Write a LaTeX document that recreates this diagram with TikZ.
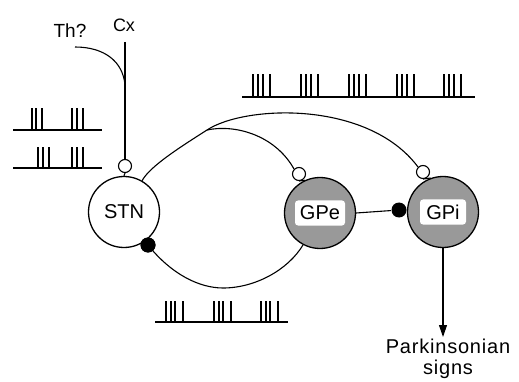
\documentclass[tikz,border=0pt]{standalone}
\usepackage{fontspec}
\setmainfont{Liberation Sans}
\usetikzlibrary{arrows.meta}
% one burst of spikes standing on a baseline: x, base y, top y, offsets
\newcommand\burst[4]{%
  \foreach \o in {#4} \draw[spike] (#1+\o,#2) -- (#1+\o,#3);%
}
\begin{document}
\begin{tikzpicture}[x=1pt,y=-1pt,line width=1.1pt,
  nucleus/.style={circle,draw,line width=1.3pt,minimum size=71pt,inner sep=0pt,
    font=\fontsize{20}{22}\selectfont},
  pallidal/.style={nucleus,fill=black!40},
  tag/.style={fill=white,rounded corners=3pt,inner sep=2pt,minimum width=50pt,
    minimum height=25pt,font=\fontsize{20}{22}\selectfont},
  excite/.style={circle,draw,fill=white,line width=1.1pt,minimum size=13pt,inner sep=0pt},
  inhibit/.style={circle,fill=black,minimum size=15pt,inner sep=0pt},
  lbl/.style={font=\fontsize{19}{21}\selectfont,inner sep=1pt,align=center},
  spike/.style={line width=1.7pt},
  base/.style={line width=1.3pt}]
\useasboundingbox (0,0) rectangle (519,382);

% nuclei
\node[nucleus] (STN) at (124,212) {STN};
\node[pallidal] (GPe) at (320,213) {};
\node[tag] at (GPe) {GPe};
\node[pallidal] (GPi) at (443,212) {};
\node[tag,minimum width=46pt] at (GPi) {GPi};

% synapses
\node[excite] (oS) at (125,166) {};
\node[excite] (oE) at (299,174) {};
\node[excite] (oI) at (423,172) {};
\node[inhibit] (bS) at (148,245) {};
\node[inhibit] (bI) at (399,210) {};

% inputs
\node[lbl,font=\fontsize{18}{20}\selectfont] (cxl) at (124,25) {Cx};
\node[lbl] (thl) at (70,31) {Th?};
\coordinate (cx) at (125,42);
\coordinate (th) at (75,47);
\coordinate (join) at (125,85);
\coordinate (br) at (207,130);

\draw (cx) -- (oS.north);
\draw (oS.south) -- (STN.north);
\draw (th) .. controls (105,47) and (123,62) .. (join);

% projections
\draw (STN.60) .. controls (150,166) and (182,146) .. (br)
      .. controls (245,105) and (368,100) .. (oI.135);
\draw (br) .. controls (235,124) and (275,135) .. (oE.135);
\draw (oE.south) -- (GPe.115);
\draw (oI.south) -- (GPi.110);
\draw (bS.center) .. controls (172,275) and (200,288) .. (223,288)
      .. controls (255,288) and (288,270) .. (GPe.242);
\draw (GPe.east) -- (bI);
\node[inhibit] at (bS) {};

% output
\node[lbl,anchor=north,font=\fontsize{20}{21}\selectfont\addfontfeature{LetterSpace=4}]
  (park) at (448,337) {Parkinsonian\\signs};
\draw[-{Triangle[width=8pt,length=12pt]}] (GPi.south) -- (park.north -| GPi.south);

% firing patterns
\draw[base] (13,130) -- (102,130);
\burst{32}{130}{108}{0,4,10}
\burst{72}{130}{108}{0,5,11}
\draw[base] (13,168) -- (102,168);
\burst{38}{168}{147}{0,5,11}
\burst{72}{168}{147}{0,5,11}
\draw[base] (242,97) -- (475,97);
\foreach \b in {253,301,349,397,444} {\burst{\b}{97}{74}{0,5,10,17}}
\draw[base] (155,322) -- (288,322);
\foreach \b in {166,214,261} {\burst{\b}{322}{301}{0,5,9,17}}
\end{tikzpicture}
\end{document}
